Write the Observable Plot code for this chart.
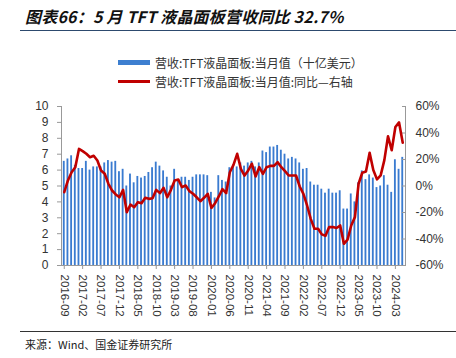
<!DOCTYPE html>
<html><head><meta charset="utf-8">
<script src="https://cdn.jsdelivr.net/npm/d3@7"></script>
<script src="https://cdn.jsdelivr.net/npm/@observablehq/plot@0.6"></script>
<style>
body{margin:0;background:#fff;width:456px;height:358px;position:relative;overflow:hidden;font-family:"Liberation Sans",Arial,sans-serif}
#title{position:absolute;left:25px;top:4px;font:italic bold 16px "Noto Sans CJK SC";color:#111;white-space:nowrap;letter-spacing:0.2px}
#rule1{position:absolute;left:20px;right:0;top:30px;height:0;border-top:1.5px solid #2d4a6e}
.leg{position:absolute;left:118px;height:18px;font:12px "Noto Sans CJK SC";color:#333;white-space:nowrap;display:flex;align-items:center}
.sw{display:inline-block;width:32px;margin-right:5px}
#chart{position:absolute;left:0;top:96px}
#rule2{position:absolute;left:20px;right:0;top:331px;height:0;border-top:1.5px solid #333}
#src{position:absolute;left:25px;top:336px;font:11px "Noto Sans CJK SC";color:#222;white-space:nowrap}
</style></head>
<body>
<div id="title"></div>
<div id="rule1"></div>
<div class="leg" id="leg1" style="top:53px"><span class="sw" style="height:5px;background:#3d7fd0"></span><span id="l1"></span></div>
<div class="leg" id="leg2" style="top:72px"><span class="sw" style="height:3px;background:#c00000"></span><span id="l2"></span></div>
<div id="chart"></div>
<div id="rule2"></div>
<div id="src"></div>
<script>
const titleText = "图表66：5 月 TFT 液晶面板营收同比 32.7%";
const seriesBarName = "营收:TFT液晶面板:当月值（十亿美元）";
const seriesLineName = "营收:TFT液晶面板:当月值:同比—右轴";
const sourceText = "来源：Wind、国金证券研究所";

const startMonth = "2016-09";
const endMonth = "2024-05";

// monthly revenue, billion USD (2016-09 .. 2024-05)
const revenue = [
 6.55,6.7,6.9,6.3,6.1,6.1,6.55,6.0,6.2,6.2,6.2,6.45,6.6,6.5,6.55,5.9,
 6.05,5.0,5.75,5.2,5.6,5.5,5.6,5.85,6.15,6.5,6.25,5.95,
 5.55,5.0,6.05,5.3,5.55,5.55,5.35,5.55,5.7,5.7,5.7,5.65,
 4.6,4.25,5.65,5.35,5.25,6.15,6.3,6.2,6.45,6.25,6.45,6.55,
 6.2,6.45,7.2,7.1,7.45,7.45,7.55,7.25,7.0,6.7,6.8,6.7,
 6.45,6.05,6.1,5.25,5.05,5.05,4.8,4.55,4.8,4.55,4.55,4.7,
 3.55,3.55,4.5,4.0,5.2,5.95,5.4,5.7,5.5,4.9,5.0,5.65,
 5.05,4.6,6.65,6.05,6.8
];
// YoY %, right axis
const yoy = [
 -4.7,4.2,10.4,14.2,28,26.3,24.3,21.7,22.8,19.2,11.7,9.2,1.7,-3.4,-6.4,-8.5,
 -2.9,-19.8,-14,-16,-12.2,-13,-8.9,-9.7,-9.2,-2.9,-5.4,-1.4,
 -8.5,-2.9,4.2,4.9,-0.9,0.4,-3.9,-5.9,-8.5,-11.5,-8.9,-5.9,
 -16.5,-13,-7.9,-2.4,-5.4,10.4,16,24.3,13,7.9,11.7,16.8,
 7.2,14.2,9.2,14.2,15.2,15.2,18,14.2,11.2,7.9,7.9,7.9,
 -0.4,-5.9,-14.7,-24.8,-32.3,-32.3,-36.5,-37.6,-31,-31,-31.7,-29.8,
 -43.6,-40.5,-29.8,-23.5,1.7,10,11,25,12,5,8,19.5,
 37.5,27,44.5,48,32.7
];
const xTickLabels = ["2016-09","2017-02","2017-07","2017-12","2018-05","2018-10","2019-03","2019-08","2020-01","2020-06","2020-11","2021-04","2021-09","2022-02","2022-07","2022-12","2023-05","2023-10","2024-03"];
const leftTicks = [0,1,2,3,4,5,6,7,8,9,10];
const rightTicks = [-60,-40,-20,0,20,40,60];

document.getElementById("title").textContent = titleText;
document.getElementById("l1").textContent = seriesBarName;
document.getElementById("l2").textContent = seriesLineName;
document.getElementById("src").textContent = sourceText;

// build month categories
const months = [];
{
  let [y, m] = startMonth.split("-").map(Number);
  while (true) {
    const s = `${y}-${String(m).padStart(2,"0")}`;
    months.push(s);
    if (s === endMonth) break;
    m++; if (m > 12) { m = 1; y++; }
  }
}
const rows = months.map((m, i) => ({m, rev: revenue[i], yoy: yoy[i]}));
// map right-axis % to left-axis units: -60..60 -> 0..10
const toLeft = p => (p + 60) / 12;

const chart = Plot.plot({
  width: 456, height: 232,
  marginTop: 10, marginBottom: 63, marginLeft: 61, marginRight: 51,
  style: {fontFamily: "'Liberation Sans', Arial, sans-serif", background: "transparent", color: "#333"},
  x: {type: "band", domain: months, padding: 0.5},
  y: {domain: [0, 10]},
  marks: [
    Plot.barY(rows, {x: "m", y: "rev", fill: "#3a7bd0"}),
    Plot.frame({anchor: "left", stroke: "#999"}),
    Plot.frame({anchor: "right", stroke: "#999"}),
    Plot.frame({anchor: "bottom", stroke: "#999"}),
    Plot.axisY({ticks: leftTicks, tickSize: 4, tickPadding: 9, label: null, stroke: "#999", fill: "#333", fontSize: 12}),
    Plot.axisY({anchor: "right", ticks: rightTicks.map(toLeft), tickFormat: p => `${Math.round(p * 12 - 60)}%`,
      tickSize: 4, insetRight: 4, tickPadding: 10, label: null, stroke: "#999", fill: "#333", fontSize: 12}),
    Plot.axisX({ticks: xTickLabels, tickRotate: 90, tickSize: 4, label: null, stroke: "#999", fill: "#333", fontSize: 11.5}),
    Plot.lineY(rows, {x: "m", y: d => toLeft(d.yoy), stroke: "#c00000", strokeWidth: 2.6, strokeLinejoin: "round"})
  ]
});
document.getElementById("chart").appendChild(chart);
</script>
</body></html>
